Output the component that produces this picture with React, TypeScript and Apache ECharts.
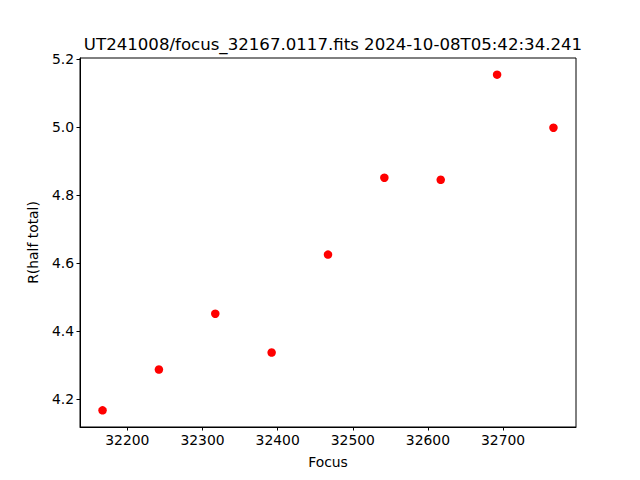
import React, { useEffect, useRef } from "react";
import * as echarts from "echarts";

const focusValues = [32167, 32242, 32317, 32392, 32467, 32542, 32617, 32692, 32767];
const rHalfTotal = [4.167, 4.287, 4.451, 4.337, 4.625, 4.851, 4.845, 5.154, 4.998];
const xTicks = [32200, 32300, 32400, 32500, 32600, 32700];
const yTicks = [4.2, 4.4, 4.6, 4.8, 5.0, 5.2];
const titleText = "UT241008/focus_32167.0117.fits 2024-10-08T05:42:34.241";

export default function App() {
  const ref = useRef<HTMLDivElement>(null);
  useEffect(() => {
    if (!ref.current) return;
    const chart = echarts.init(ref.current, null, { renderer: "svg" });
    const font = "DejaVu Sans";
    chart.setOption({
      animation: false,
      backgroundColor: "#ffffff",
      title: {
        text: titleText,
        left: 328,
        top: 31,
        textAlign: "center",
        textStyle: { fontFamily: font, fontSize: 16.6, fontWeight: "normal", color: "#000" },
      },
      grid: {
        left: 80,
        top: 58,
        right: 64,
        bottom: 53,
        show: true,
        borderColor: "#000",
        borderWidth: 1,
        backgroundColor: "transparent",
      },
      xAxis: {
        type: "value",
        min: 32137,
        max: 32797,
        name: "Focus",
        nameLocation: "middle",
        nameGap: 28,
        nameTextStyle: { fontFamily: font, fontSize: 13.9, color: "#000" },
        axisLine: { show: true, onZero: false, lineStyle: { color: "#000", width: 1 } },
        axisTick: { show: true, length: 3.5, inside: false, customValues: xTicks, lineStyle: { color: "#000" } },
        axisLabel: {
          customValues: xTicks,
          fontFamily: font,
          fontSize: 13.9,
          color: "#000",
          margin: 6,
          formatter: (v: number) => String(v),
        },
        splitLine: { show: false },
      },
      yAxis: {
        type: "value",
        min: 4.118,
        max: 5.203,
        name: "R(half total)",
        nameLocation: "middle",
        nameGap: 40,
        nameRotate: 90,
        nameTextStyle: { fontFamily: font, fontSize: 13.9, color: "#000" },
        axisLine: { show: true, onZero: false, lineStyle: { color: "#000", width: 1 } },
        axisTick: { show: true, length: 3.5, inside: false, customValues: yTicks, lineStyle: { color: "#000" } },
        axisLabel: {
          customValues: yTicks,
          fontFamily: font,
          fontSize: 13.9,
          color: "#000",
          margin: 6,
          formatter: (v: number) => v.toFixed(1),
        },
        splitLine: { show: false },
      },
      series: [
        {
          type: "scatter",
          data: focusValues.map((x, i) => [x, rHalfTotal[i]]),
          symbol: "circle",
          symbolSize: 8.5,
          itemStyle: { color: "#ff0000", opacity: 1 },
        },
      ],
    });
    return () => chart.dispose();
  }, []);
  return <div ref={ref} style={{ width: 640, height: 480, position: "absolute", left: 0, top: 0 }} />;
}
